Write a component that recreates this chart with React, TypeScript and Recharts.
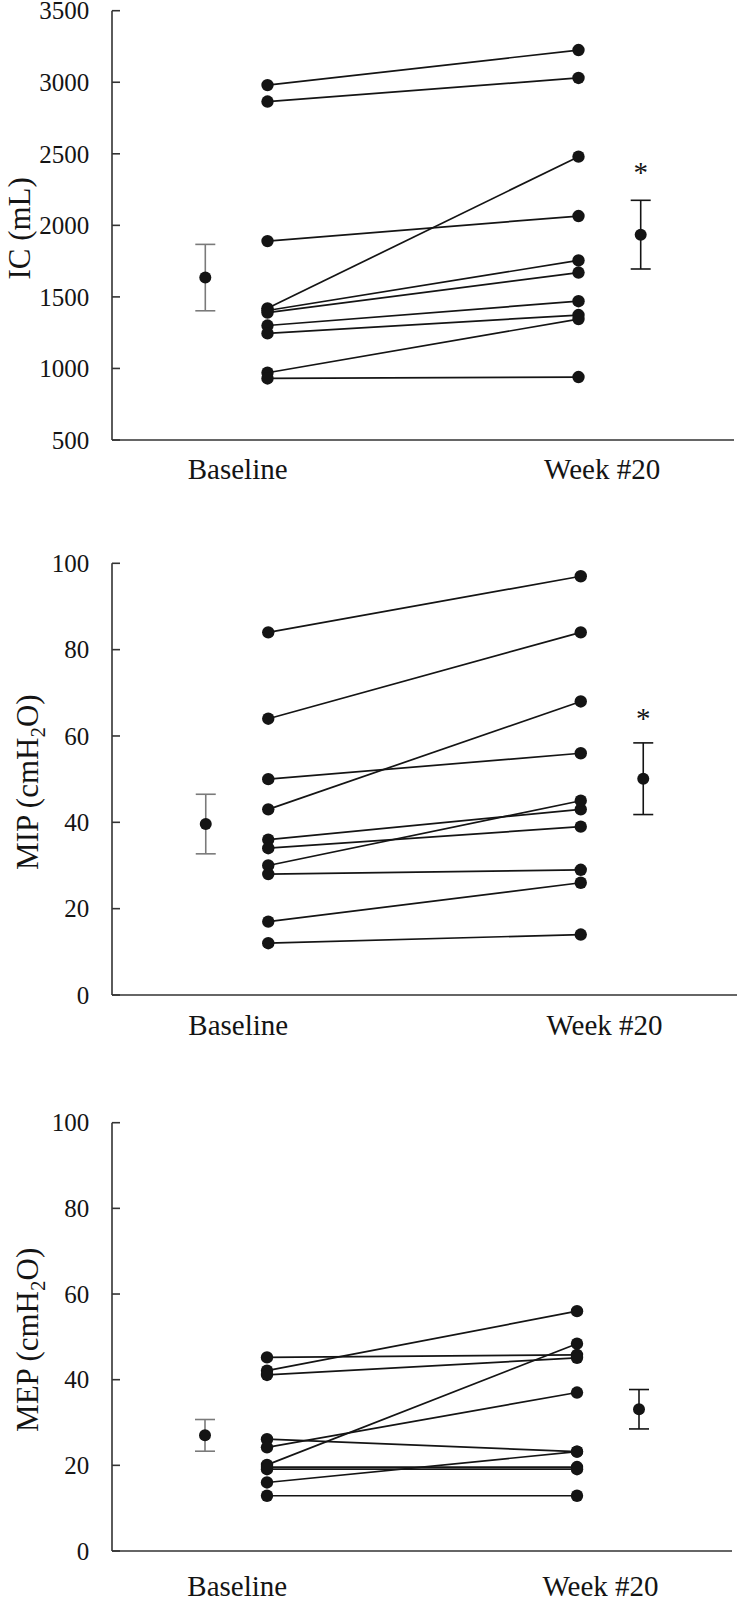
import React from "react";
import {
  ComposedChart, Line, Scatter, ErrorBar, XAxis, YAxis,
} from "recharts";

const categories = ["Baseline", "Week #20"];

// IC (mL)
const icBaseline = [2980, 2865, 1890, 1420, 1405, 1390, 1300, 1245, 970, 930];
const icWeek20 = [3225, 3030, 2065, 2480, 1755, 1670, 1470, 1373, 1345, 940];
const icMean = [1635, 1935];
const icErr = [232, 240];
const icStar = 2400;
const icTicks = [500, 1000, 1500, 2000, 2500, 3000, 3500];

// MIP (cmH2O)
const mipBaseline = [84, 64, 50, 43, 36, 34, 30, 28, 17, 12];
const mipWeek20 = [97, 84, 56, 68, 43, 39, 45, 29, 26, 14];
const mipMean = [39.6, 50.1];
const mipErr = [6.9, 8.3];
const mipStar = 65;

// MEP (cmH2O)
const mepBaseline = [45.2, 42.1, 41.1, 26.1, 24.2, 20.1, 19.6, 19.1, 16.0, 12.9];
const mepWeek20 = [45.8, 56.0, 45.1, 23.2, 37.0, 48.4, 19.6, 19.1, 23.2, 12.9];
const mepMean = [27.0, 33.1];
const mepErr = [3.7, 4.6];

const pctTicks = [0, 20, 40, 60, 80, 100];

// x positions on a 0..100 axis
const BASE_X = 25;
const WEEK_X = 75;
const MEAN_BASE_X = 15;
const MEAN_WEEK_X = 85;
const LABEL_X = [20.2, 78.8];

const FONT = "'Liberation Serif', 'Times New Roman', serif";
const INK = "#141414";
const AXIS = "#333";

const YTick = ({ x, y, payload }: any) => (
  <g>
    <line x1={x} x2={x + 8} y1={y} y2={y} stroke={AXIS} strokeWidth={1.6} />
    <text x={x - 22.7} y={y} dy="0.35em" textAnchor="end" fontSize={25} fill={INK} fontFamily={FONT}>
      {payload.value}
    </text>
  </g>
);

const makeXTick = (offset: number) => ({ x, y, index }: any) => (
  <text x={x} y={y + offset} textAnchor="middle" fontSize={29} fill={INK} fontFamily={FONT}>
    {categories[index]}
  </text>
);

const Dot = ({ cx, cy }: any) => <circle cx={cx} cy={cy} r={6} fill={INK} />;

const Star = ({ cx, cy }: any) => (
  <text x={cx} y={cy} dy="0.48em" textAnchor="middle" fontSize={29} fill={INK} fontFamily={FONT}>*</text>
);

function Panel(props: {
  top: number; height: number; plotTop: number; right: number; xAxisH: number;
  labelOffset: number; domain: [number, number]; ticks: number[];
  baseline: number[]; week: number[]; mean: number[]; err: number[]; star?: number;
  title: React.ReactNode; titleX: number;
}) {
  const { top, height, plotTop, right, xAxisH, labelOffset, domain, ticks, baseline, week, mean, err, star, title, titleX } = props;
  const plotBottom = height - xAxisH;
  const cy = plotTop + (plotBottom - plotTop) / 2 + 3;
  return (
    <div style={{ position: "absolute", left: 0, top, width: 750, height }}>
      <ComposedChart width={750} height={height} margin={{ top: plotTop, right, bottom: 0, left: 0 }}>
        <XAxis
          type="number" dataKey="x" domain={[0, 100]} ticks={LABEL_X} interval={0}
          height={xAxisH} tickSize={0} tickMargin={0} tickLine={false}
          axisLine={{ stroke: AXIS, strokeWidth: 1.6 }}
          tick={makeXTick(labelOffset)}
        />
        <YAxis
          type="number" domain={domain} ticks={ticks} interval={0} width={112}
          tickSize={0} tickMargin={0} tickLine={false}
          axisLine={{ stroke: AXIS, strokeWidth: 1.6 }}
          tick={<YTick />}
          label={() => (
            <text
              x={titleX} y={cy} textAnchor="middle" fontSize={31} fill={INK} fontFamily={FONT}
              transform={`rotate(-90, ${titleX}, ${cy})`}
            >
              {title}
            </text>
          )}
        />
        {baseline.map((b, i) => (
          <Line
            key={i}
            data={[{ x: BASE_X, y: b }, { x: WEEK_X, y: week[i] }]}
            dataKey="y"
            stroke={INK}
            strokeWidth={1.7}
            dot={{ r: 6.2, fill: INK, stroke: INK, strokeWidth: 0 }}
            activeDot={false}
            isAnimationActive={false}
          />
        ))}
        <Scatter data={[{ x: MEAN_BASE_X, y: mean[0], err: err[0] }]} dataKey="y" shape={<Dot />} isAnimationActive={false}>
          <ErrorBar dataKey="err" direction="y" width={10} stroke="#7a7a7a" strokeWidth={1.6} isAnimationActive={false} />
        </Scatter>
        <Scatter data={[{ x: MEAN_WEEK_X, y: mean[1], err: err[1] }]} dataKey="y" shape={<Dot />} isAnimationActive={false}>
          <ErrorBar dataKey="err" direction="y" width={10} stroke={INK} strokeWidth={1.6} isAnimationActive={false} />
        </Scatter>
        {star !== undefined && (
          <Scatter data={[{ x: MEAN_WEEK_X, y: star }]} dataKey="y" shape={<Star />} isAnimationActive={false} />
        )}
      </ComposedChart>
    </div>
  );
}

const h2o = (name: string) => (
  <>
    <tspan>{name} (cmH</tspan>
    <tspan dy={7} fontSize={21}>2</tspan>
    <tspan dy={-7}>O)</tspan>
  </>
);

export default function App() {
  return (
    <div style={{ position: "absolute", left: 0, top: 0, width: 750, height: 1605, background: "#fff", overflow: "hidden" }}>
      <Panel
        top={0} height={500} plotTop={10.7} right={16} xAxisH={60} labelOffset={38.5}
        domain={[500, 3500]} ticks={icTicks}
        baseline={icBaseline} week={icWeek20} mean={icMean} err={icErr} star={icStar}
        title="IC (mL)" titleX={30}
      />
      <Panel
        top={520} height={535} plotTop={43.3} right={13} xAxisH={60} labelOffset={39.5}
        domain={[0, 100]} ticks={pctTicks}
        baseline={mipBaseline} week={mipWeek20} mean={mipMean} err={mipErr} star={mipStar}
        title={h2o("MIP")} titleX={38}
      />
      <Panel
        top={1080} height={521} plotTop={42.7} right={18} xAxisH={50} labelOffset={44.5}
        domain={[0, 100]} ticks={pctTicks}
        baseline={mepBaseline} week={mepWeek20} mean={mepMean} err={mepErr}
        title={h2o("MEP")} titleX={38}
      />
    </div>
  );
}
